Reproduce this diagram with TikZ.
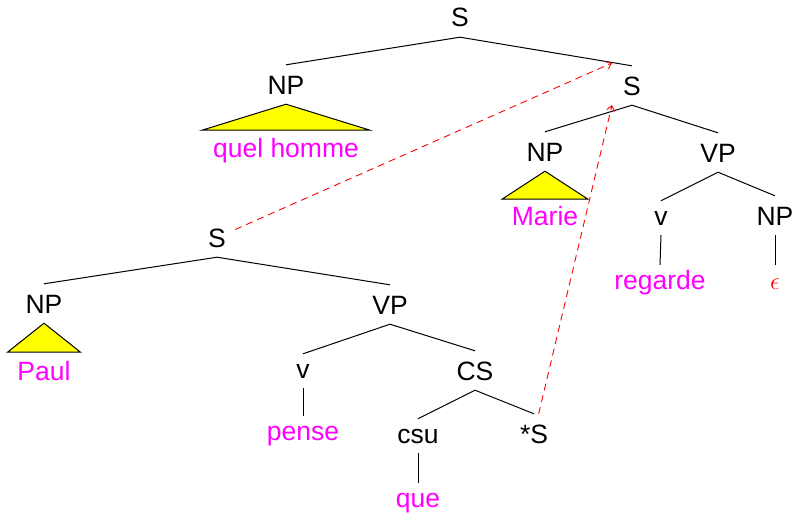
\documentclass[tikz,border=0pt]{standalone}
\usepackage{fontspec}
\setmainfont{Liberation Sans}
\usetikzlibrary{arrows.meta}
\definecolor{word}{rgb}{1,0,1}
\definecolor{tri}{rgb}{1,1,0}
\begin{document}
\begin{tikzpicture}[x=1pt,y=-1pt,
  font=\fontsize{26.5}{30}\selectfont,
  cat/.style={anchor=base,inner xsep=0pt,inner ysep=10pt,text height=19pt,text depth=0pt},
  lex/.style={cat,text height=14pt},
  leaf/.style={lex,text=word},
  branch/.style={line width=1pt,black},
  roof/.style={line width=1pt,draw=black,fill=tri},
  trace/.style={red,line width=0.9pt,dash pattern=on 7pt off 5pt,
    -{Straight Barb[length=5pt,width=8pt]}}]
\useasboundingbox (0,0) rectangle (795,514);

% upper tree
\node[cat] (s1) at (460,27) {S};
\node[cat] (np1) at (286,94) {NP};
\node[leaf] (w1) at (286,157) {quel homme};
\node[cat] (s2) at (632,95) {S};
\node[cat] (np2) at (545,161) {NP};
\node[leaf] (w2) at (545,225) {Marie};
\node[cat] (vp2) at (718,162) {VP};
\node[lex] (v2) at (661,225) {v};
\node[cat] (np3) at (775,225) {NP};
\node[leaf] (w3) at (660,289) {regarde};
\node[lex,text=red] (eps) at (775,289) {$\epsilon$};

% lower tree
\node[cat] (s3) at (217,247) {S};
\node[cat] (np4) at (44,313) {NP};
\node[leaf] (w4) at (44,380) {Paul};
\node[cat] (vp1) at (390,314) {VP};
\node[lex] (v1) at (303,378) {v};
\node[cat] (cs) at (475,380) {CS};
\node[leaf] (w5) at (303,440) {pense};
\node[lex] (csu) at (418,443) {csu};
\node[cat] (sstar) at (534,443) {*S};
\node[leaf] (w6) at (418,507) {que};

% branches
\draw[branch] (np1.north) -- (s1.south) -- (s2.north);
\draw[branch] (np2.north) -- (s2.south) -- (vp2.north);
\draw[branch] (v2.north) -- (vp2.south) -- (np3.north);
\draw[branch] (v2.south) -- (w3.north);
\draw[branch] (np3.south) -- (eps.north);
\draw[branch] (np4.north) -- (s3.south) -- (vp1.north);
\draw[branch] (v1.north) -- (vp1.south) -- (cs.north);
\draw[branch] (v1.south) -- (w5.north);
\draw[branch] (csu.north) -- (cs.south) -- (sstar.north);
\draw[branch] (csu.south) -- (w6.north);

% roofs over unanalysed NPs
\filldraw[roof] (np1.south) -- ++(-84,26) -- ++(168,0) -- cycle;
\filldraw[roof] (np2.south) -- ++(-43,28) -- ++(86,0) -- cycle;
\filldraw[roof] (np4.south) -- ++(-36.5,29) -- ++(73,0) -- cycle;

% traces
\coordinate (t1) at (612,63);
\coordinate (t2) at (612,105);
\draw[trace,shorten <=10pt] (s3) -- (t1);
\draw[trace] (sstar) -- (t2);
\end{tikzpicture}
\end{document}
